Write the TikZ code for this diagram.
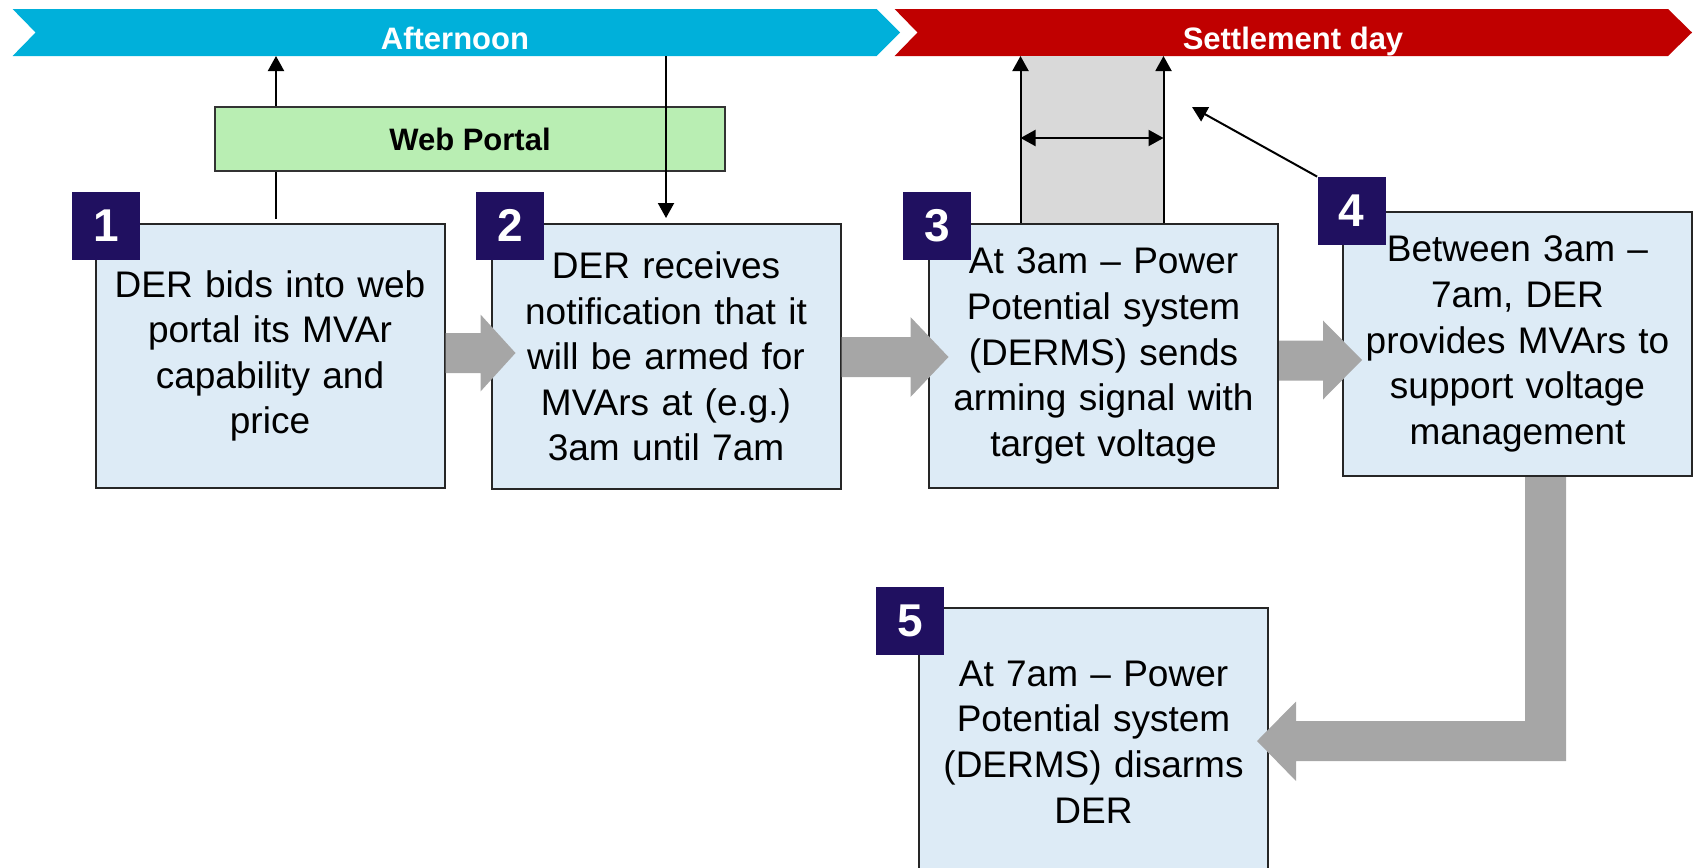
\documentclass[tikz,border=0pt]{standalone}
\usepackage{fontspec}
\setmainfont{Liberation Sans}
\usetikzlibrary{arrows.meta,calc}
\definecolor{cblue}{RGB}{0,176,218}
\definecolor{cred}{RGB}{192,0,0}
\definecolor{cgreen}{RGB}{185,238,179}
\definecolor{cbox}{RGB}{221,235,246}
\definecolor{cnavy}{RGB}{32,16,96}
\definecolor{carrow}{RGB}{166,166,166}
\definecolor{cshade}{RGB}{217,217,217}
\tikzset{
 stepbox/.style={draw=black!85, line width=1pt, fill=cbox, minimum width=174.5pt, minimum height=132pt, inner sep=0pt, align=center, text width=170pt, font=\fontsize{18.5pt}{22.8pt}\selectfont},
 badge/.style={fill=cnavy, minimum width=34pt, minimum height=34pt, inner sep=0pt, text=white, font=\fontsize{23pt}{23pt}\selectfont\bfseries},
 blk/.style={fill=carrow},
 thinarrow/.style={line width=1pt, -{Triangle[length=7.5pt,width=8pt]}},
 band/.style={text=white, anchor=base, inner sep=0pt, font=\fontsize{15.5pt}{18pt}\selectfont\bfseries}
}
\begin{document}
\begin{tikzpicture}[x=0.5pt,y=-0.5pt]
\useasboundingbox (0,0) rectangle (1696,867);
% timeline bands
\fill[cblue] (12.6,9) -- (876.6,9) -- (900,32.5) -- (876.6,56) -- (12.6,56) -- (35.6,32.5) -- cycle;
\node[band] (aft) at (455,49.3) {Afternoon};
\fill[cred] (894.6,9) -- (1668,9) -- (1692,32.5) -- (1668,56) -- (894.6,56) -- (917.5,32.5) -- cycle;
\node[band] (set) at (1293,49) {Settlement day};
\coordinate (bandbot) at (0,56);
% step boxes
\node[stepbox, minimum height=132pt] (b1) at (270,356) {DER bids into web\\portal its MVAr\\capability and\\price};
\node[stepbox, minimum height=132.5pt] (b2) at (666,356.5) {DER receives\\notification that it\\will be armed for\\MVArs at (e.g.)\\3am until 7am};
\node[stepbox] (b3) at (1103.5,356) {At 3am -- Power\\Potential system\\(DERMS) sends\\arming signal with\\target voltage};
\node[stepbox] (b4) at (1517.5,344) {Between 3am --\\7am, DER\\provides MVArs to\\support voltage\\management};
\node[stepbox, minimum height=134pt] (b5) at (1093.5,742) {At 7am -- Power\\Potential system\\(DERMS) disarms\\DER};
% shaded window
\coordinate (sL) at ($(b3.north)+(-83,0)$);
\coordinate (sR) at ($(b3.north)+(60,0)$);
\fill[cshade] (sL |- bandbot) rectangle (sR);
% web portal links
\draw[thinarrow] ($(b1.north)+(6,-4)$) -- ($(b1.north |- bandbot)+(6,0)$);
\node[draw=black!80, line width=1pt, fill=cgreen, minimum width=255pt, minimum height=32pt, inner sep=0pt, font=\fontsize{15.5pt}{18pt}\selectfont\bfseries] (web) at (470,139) {Web Portal};
\draw[thinarrow] (b2.north |- bandbot) -- ($(b2.north)+(0,-5)$);
% window arrows
\draw[thinarrow] (sL) -- (sL |- bandbot);
\draw[thinarrow] (sR) -- (sR |- bandbot);
\coordinate (dm) at (0,138);
\draw[line width=1pt, {Triangle[length=7.5pt,width=8pt]}-{Triangle[length=7.5pt,width=8pt]}] (sL |- dm) -- (sR |- dm);
% badges
\node[badge] (n1) at (106,226) {1};
\node[badge] (n2) at (510,225.5) {2};
\node[badge] (n3) at (937,226) {3};
\node[badge] (n4) at (1351.5,211) {4};
\node[badge] (n5) at (910,620.5) {5};
\coordinate (diagend) at (1192,107);
\draw[thinarrow] (n4.north west) -- (diagend);
% block arrows
\fill[blk] ($(b1.east)+(0,-23)$) -- ++(35,0) -- ++(0,-18.5) -- ++(35,38.5) -- ++(-35,38.5) -- ++(0,-18.5) -- ++(-35,0) -- cycle;
\fill[blk] ($(b2.east)+(0,-19.5)$) -- ++(69,0) -- ++(0,-20) -- ++(38,40) -- ++(-38,40) -- ++(0,-20) -- ++(-69,0) -- cycle;
\fill[blk] ($(b3.east)+(0,-15.5)$) -- ++(44,0) -- ++(0,-20) -- ++(39,39.5) -- ++(-39,39.5) -- ++(0,-19) -- ++(-44,0) -- cycle;
\fill[blk] ($(b4.south)+(7.5,0)$) -- ++(41,0) -- ++(0,284) -- ++(-270,0) -- ++(0,20) -- ++(-39,-40) -- ++(39,-39.5) -- ++(0,19.5) -- ++(229,0) -- cycle;
\end{tikzpicture}
\end{document}
